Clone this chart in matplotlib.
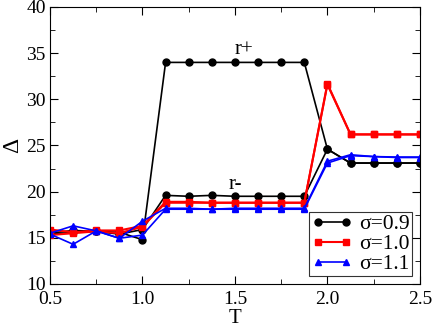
import matplotlib
matplotlib.use("Agg")
import matplotlib.pyplot as plt
from matplotlib.ticker import MultipleLocator

plt.rcParams['font.family'] = ['Liberation Serif', 'DejaVu Serif']

T = [0.5, 0.625, 0.75, 0.875, 1.0, 1.125, 1.25, 1.375, 1.5, 1.625, 1.75, 1.875,
     2.0, 2.125, 2.25, 2.375, 2.5]

s09_rplus = [15.5, 15.8, 15.7, 15.6, 14.8, 34.0, 34.0, 34.0, 34.0, 34.0, 34.0, 34.0,
             24.6, 23.1, 23.1, 23.1, 23.1]
s09_rminus = [15.4, 15.6, 15.7, 15.4, 15.9, 19.6, 19.5, 19.6, 19.5, 19.5, 19.5, 19.5,
              24.6, 23.1, 23.1, 23.1, 23.1]

s10_rplus = [15.9, 15.6, 15.8, 15.8, 16.3, 18.9, 18.9, 18.8, 18.8, 18.8, 18.8, 18.8,
             31.7, 26.2, 26.2, 26.2, 26.2]
s10_rminus = [15.3, 15.5, 15.7, 15.5, 16.2, 18.8, 18.8, 18.8, 18.8, 18.8, 18.8, 18.8,
              31.6, 26.2, 26.2, 26.2, 26.2]

s11_rplus = [15.5, 16.3, 15.75, 14.95, 16.8, 18.2, 18.2, 18.1, 18.2, 18.2, 18.2, 18.2,
             23.3, 24.0, 23.8, 23.75, 23.75]
s11_rminus = [15.4, 14.3, 15.75, 14.95, 15.3, 18.1, 18.1, 18.1, 18.1, 18.1, 18.1, 18.1,
              23.1, 23.9, 23.8, 23.7, 23.7]

labels = ['σ=0.9', 'σ=1.0', 'σ=1.1']

fig = plt.figure(figsize=(4.36, 3.27), dpi=100)
ax = fig.add_axes([0.1147, 0.1315, 0.8483, 0.8471])

ms = 5
ax.plot(T, s09_rplus, '-o', color='black', lw=1.2, ms=ms, label=labels[0])
ax.plot(T, s09_rminus, '-o', color='black', lw=1.2, ms=ms)
ax.plot(T, s10_rplus, '-s', color='red', lw=1.5, ms=ms, label=labels[1])
ax.plot(T, s10_rminus, '-s', color='red', lw=1.5, ms=ms)
ax.plot(T, s11_rplus, '-^', color='blue', lw=1.2, ms=ms, label=labels[2])
ax.plot(T, s11_rminus, '-^', color='blue', lw=1.2, ms=ms)

ax.text(1.55, 35.4, 'r+', fontsize=15, ha='center', va='center')
ax.text(1.5, 20.8, 'r-', fontsize=15, ha='center', va='center')

ax.set_xlim(0.5, 2.5)
ax.set_ylim(10, 40)
ax.xaxis.set_major_locator(MultipleLocator(0.5))
ax.xaxis.set_minor_locator(MultipleLocator(0.25))
ax.yaxis.set_major_locator(MultipleLocator(5))
ax.yaxis.set_minor_locator(MultipleLocator(2.5))
ax.xaxis.set_major_formatter(plt.FuncFormatter(lambda v, p: f'{v:.1f}'))
ax.tick_params(which='both', direction='in', top=True, right=True, labelsize=14)
ax.tick_params(axis='x', which='major', pad=5)
ax.tick_params(axis='y', which='major', pad=3)
ax.tick_params(which='major', length=6)
ax.tick_params(which='minor', length=3.5)
ax.set_xlabel('T', fontsize=15, labelpad=1)
ax.set_ylabel('Δ', fontsize=17, labelpad=2)

leg = ax.legend(loc='lower right', numpoints=2, fontsize=15.5, frameon=True,
                fancybox=False, edgecolor='black', handlelength=1.9,
                handletextpad=0.35, borderpad=0.1, labelspacing=0.0,
                borderaxespad=0.35)
leg.get_frame().set_linewidth(0.8)

fig.savefig('out.png', dpi=100)
